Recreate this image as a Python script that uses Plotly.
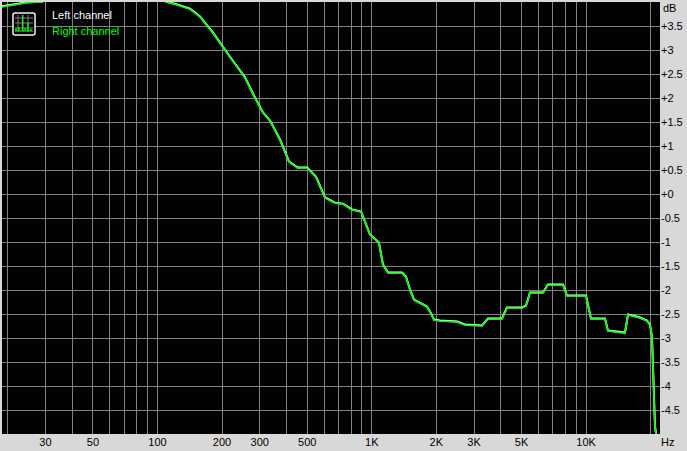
import plotly.graph_objects as go

W = 687
H = 451
M_L = 2
M_R = 27
M_T = 2
M_B = 17

# частоты, Гц, и уровни, дБ
freq = [18.8, 21.2, 24.6, 28.9, 40, 90, 109.6, 123.3, 141.8, 157.9, 181.6, 217.9, 256, 285, 310.7,
        335, 373, 411, 452, 499, 549, 605, 673, 734, 808, 891, 981, 1080, 1128, 1190,
        1384, 1444, 1508, 1574, 1678, 1809, 1869, 1951, 2081, 2498, 2722, 3268, 3486, 4052, 4274,
        5022, 5244, 5474, 6295, 6641, 7801, 8145, 9989, 10539, 12250, 12650, 15190, 15690, 17850, 19240,
        19870, 20300, 20520, 20970, 21190, 21500]
right_db = [3.90, 3.94, 3.985, 4.0, 4.3, 4.4, 4.0, 3.94, 3.85, 3.69, 3.35, 2.85, 2.42, 2.0, 1.69,
            1.52, 1.125, 0.667, 0.54, 0.54, 0.354, -0.083, -0.19, -0.21, -0.33, -0.375, -0.854, -1.02, -1.48, -1.646,
            -1.646, -1.73, -2.0, -2.21, -2.27, -2.354, -2.458, -2.625, -2.646, -2.667, -2.73, -2.75, -2.604, -2.604, -2.375,
            -2.375, -2.333, -2.0625, -2.0625, -1.896, -1.896, -2.125, -2.125, -2.604, -2.604, -2.854, -2.896, -2.52, -2.583, -2.646,
            -2.73, -2.98, -3.6, -4.85, -4.98, -5.3]
left_db = [3.91, 3.95, 3.995, 4.01, 4.31, 4.41, 4.01, 3.95, 3.86, 3.70, 3.36, 2.86, 2.43, 2.01, 1.70,
           1.53, 1.135, 0.677, 0.55, 0.55, 0.364, -0.073, -0.18, -0.20, -0.32, -0.365, -0.844, -1.01, -1.47, -1.636,
           -1.636, -1.72, -1.99, -2.20, -2.26, -2.344, -2.448, -2.615, -2.636, -2.657, -2.72, -2.74, -2.594, -2.594, -2.365,
           -2.365, -2.323, -2.0525, -2.0525, -1.886, -1.886, -2.115, -2.115, -2.594, -2.594, -2.844, -2.886, -2.51, -2.573, -2.636,
           -2.72, -2.97, -3.59, -4.84, -4.97, -5.29]

x_ticks = [20, 30, 40, 50, 60, 70, 80, 90, 100, 200, 300, 400, 500, 600, 700, 800, 900,
           1000, 2000, 3000, 4000, 5000, 6000, 7000, 8000, 9000, 10000, 20000]
x_labels = ['', '30', '', '50', '', '', '', '', '100', '200', '300', '', '500', '', '', '', '',
            '1K', '2K', '3K', '', '5K', '', '', '', '', '10K', '']
y_ticks = [3.5, 3, 2.5, 2, 1.5, 1, 0.5, 0, -0.5, -1, -1.5, -2, -2.5, -3, -3.5, -4, -4.5]
y_labels = ['+3.5', '+3', '+2.5', '+2', '+1.5', '+1', '+0.5', '+0', '-0.5', '-1', '-1.5', '-2', '-2.5', '-3', '-3.5', '-4', '-4.5']

# значок в углу: столбики спектра
icon_grid = [18, 23, 28]
icon_bars = [(16, 31, 28), (19, 31, 27), (22.5, 31, 15), (25, 31, 28), (28, 31, 23), (31, 31, 29)]


# paper у plotly считается от области графика, а не от всей страницы
def px(x):
    return (x - M_L) / (W - M_L - M_R)


def py(y):
    return 1 - (y - M_T) / (H - M_T - M_B)


def icon_shapes():
    # рамка со скруглёнными углами, координаты в пикселях страницы
    box = ('M %.4f,%.4f L %.4f,%.4f Q %.4f,%.4f %.4f,%.4f L %.4f,%.4f Q %.4f,%.4f %.4f,%.4f '
           'L %.4f,%.4f Q %.4f,%.4f %.4f,%.4f L %.4f,%.4f Q %.4f,%.4f %.4f,%.4f Z') % (
        px(15), py(13), px(33), py(13), px(35), py(13), px(35), py(15), px(35), py(33), px(35), py(35), px(33), py(35),
        px(15), py(35), px(13), py(35), px(13), py(33), px(13), py(15), px(13), py(13), px(15), py(13))
    shapes = [dict(type='path', xref='paper', yref='paper', path=box,
                   line=dict(color='#f0f0f0', width=1.5), fillcolor='black', layer='above')]
    for v in icon_grid:
        shapes.append(dict(type='line', xref='paper', yref='paper', x0=px(v), x1=px(v), y0=py(32), y1=py(15),
                           line=dict(color='#808080', width=1), layer='above'))
        shapes.append(dict(type='line', xref='paper', yref='paper', x0=px(15), x1=px(33), y0=py(v), y1=py(v),
                           line=dict(color='#808080', width=1), layer='above'))
    for xb, y0, y1 in icon_bars:
        shapes.append(dict(type='line', xref='paper', yref='paper', x0=px(xb), x1=px(xb), y0=py(y0), y1=py(y1),
                           line=dict(color='#00ff00', width=1.3), layer='above'))
    shapes.append(dict(type='line', xref='paper', yref='paper', x0=px(15), x1=px(33), y0=py(31), y1=py(31),
                       line=dict(color='#00ff00', width=1), layer='above'))
    return shapes


fig = go.Figure()
fig.add_trace(go.Scatter(x=freq, y=left_db, mode='lines', name='Left channel',
                         line=dict(color='white', width=2)))
fig.add_trace(go.Scatter(x=freq, y=right_db, mode='lines', name='Right channel',
                         line=dict(color='#00ff00', width=1.7)))

font = dict(family='Liberation Sans', size=11, color='black')
fig.update_layout(
    width=W,
    height=H,
    autosize=False,
    showlegend=False,
    paper_bgcolor='#d8d8d8',
    plot_bgcolor='black',
    margin=dict(l=M_L, r=M_R, t=M_T, b=M_B, pad=0),
    font=font,
    shapes=icon_shapes(),
    xaxis=dict(type='log', range=[1.2744, 4.3449], tickmode='array', tickvals=x_ticks, ticktext=x_labels,
               showgrid=True, gridcolor='#808080', gridwidth=1, ticks='', zeroline=False, tickangle=0,
               showline=False),
    yaxis=dict(range=[-5, 4], side='right', tickmode='array', tickvals=y_ticks, ticktext=y_labels,
               showgrid=True, gridcolor='#808080', gridwidth=1, ticks='', zeroline=False, showline=False),
    annotations=[
        dict(text='Left channel', xref='paper', yref='paper', x=px(50), y=py(15), xanchor='left', yanchor='middle',
             showarrow=False, font=dict(family='Liberation Sans', size=11, color='white')),
        dict(text='Right channel', xref='paper', yref='paper', x=px(50), y=py(31.5), xanchor='left', yanchor='middle',
             showarrow=False, font=dict(family='Liberation Sans', size=11, color='#00ff00')),
        dict(text='dB', xref='paper', yref='paper', x=px(661), y=py(8), xanchor='left', yanchor='middle',
             showarrow=False, font=font),
        dict(text='Hz', xref='paper', yref='paper', x=px(659), y=py(442), xanchor='left', yanchor='middle',
             showarrow=False, font=font),
    ],
)

# убираем отступ страницы, иначе картинка съезжает на 8 пикселей
fig.write_html("out.html", config=dict(displayModeBar=False),
               post_script="document.body.style.margin='0';document.body.style.overflow='hidden';")
